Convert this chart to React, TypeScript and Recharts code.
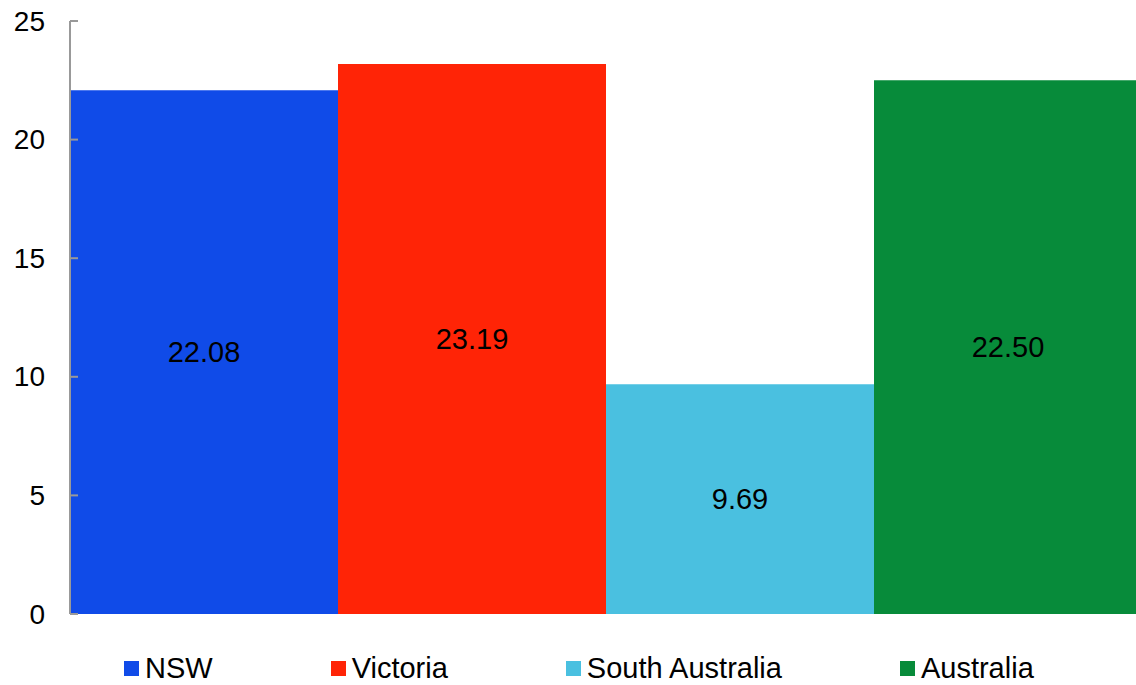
import React from "react";
import { BarChart, Bar, YAxis, XAxis, Legend, LabelList } from "recharts";

const regions = ["NSW", "Victoria", "South Australia", "Australia"];
const values = [22.08, 23.19, 9.69, 22.5];
const colors = ["#104BE8", "#FF2406", "#4AC0E0", "#078B3A"];
const yTicks = [0, 5, 10, 15, 20, 25];

// one row, one key per region so every region becomes its own series
const row: Record<string, number | string> = { name: "" };
regions.forEach((r, i) => {
  row[r] = values[i];
});
const chartData = [row];

const FONT = "Liberation Sans, Arial, sans-serif";

const YTick = (props: any) => {
  const { x, y, payload } = props;
  return (
    <g>
      <line x1={x} y1={y} x2={x + 8} y2={y} stroke="#999" strokeWidth={2} />
      <text x={x - 25} y={y} textAnchor="end" dominantBaseline="central" fontSize={28} fontFamily={FONT} fill="#000">
        {payload.value}
      </text>
    </g>
  );
};

const LegendBox = () => (
  <div style={{ display: "flex", paddingLeft: 124, gap: 118, fontFamily: FONT, fontSize: 29, color: "#000" }}>
    {regions.map((r, i) => (
      <div key={r} style={{ display: "flex", alignItems: "center" }}>
        <span style={{ width: 15, height: 15, background: colors[i], marginRight: 6, display: "inline-block" }} />
        <span>{r}</span>
      </div>
    ))}
  </div>
);

const App: React.FC = () => {
  return (
    <div style={{ position: "absolute", left: 0, top: 0, width: 1136, height: 685, background: "#fff", overflow: "hidden" }}>
      <BarChart
        width={1136}
        height={685}
        data={chartData}
        margin={{ top: 21, right: -5, bottom: 31, left: 0 }}
        barCategoryGap={0}
        barGap={0}
      >
        <XAxis dataKey="name" hide />
        <YAxis
          width={70}
          domain={[0, 25]}
          ticks={yTicks}
          interval={0}
          axisLine={{ stroke: "#999", strokeWidth: 2 }}
          tickLine={false}
          tickSize={0}
          tickMargin={0}
          tick={<YTick />}
        />
        <Legend
          content={<LegendBox />}
          wrapperStyle={{ position: "absolute", top: 652, left: 0, width: 1136, height: 40 }}
        />
        {regions.map((r, i) => (
          <Bar key={r} dataKey={r} fill={colors[i]} isAnimationActive={false}>
            <LabelList
              dataKey={r}
              position="center"
              formatter={(v: any) => Number(v).toFixed(2)}
              style={{ fontSize: 29, fontFamily: FONT, fill: "#000" }}
            />
          </Bar>
        ))}
      </BarChart>
    </div>
  );
};

export default App;
